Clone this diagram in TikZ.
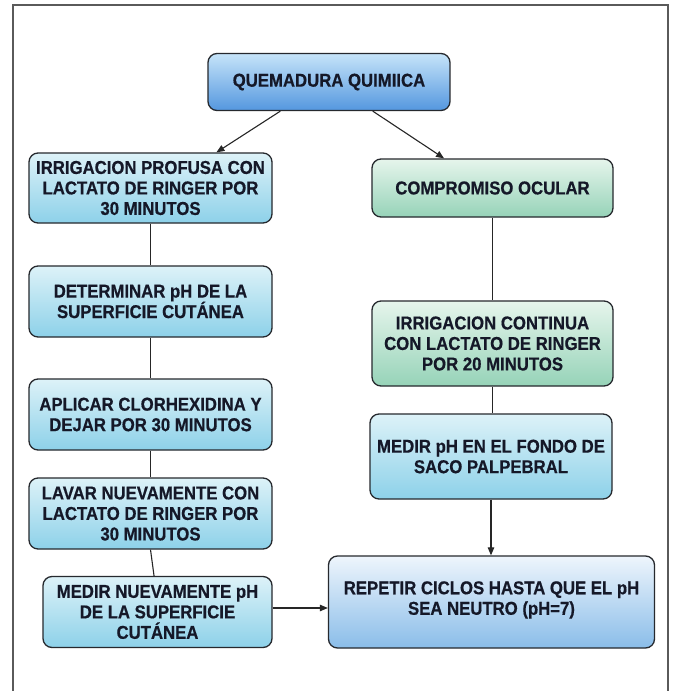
\documentclass[tikz,border=0pt]{standalone}
\usepackage{fontspec}
\setmainfont{Liberation Sans}
\newfontfamily\boxfont[FakeStretch=0.9,FakeBold=0.6]{Liberation Sans}
\usetikzlibrary{arrows.meta,calc}
\definecolor{txt}{HTML}{151828}
\definecolor{edge}{HTML}{26292E}
\definecolor{frame}{HTML}{5A5A5A}
\tikzset{
  box/.style={draw=edge, line width=1.3pt, rounded corners=9pt, align=center,
    text=txt, inner sep=0pt, font=\boxfont\fontsize{18.6}{20.5}\selectfont\bfseries},
  bluebox/.style={box, top color=blueA, bottom color=blueB},
  cyanbox/.style={box, top color=cyanA, bottom color=cyanB},
  greenbox/.style={box, top color=greenA, bottom color=greenB},
  lightbox/.style={box, top color=lightA, bottom color=lightB},
  conn/.style={draw=black!85, line width=1.1pt},
  arr/.style={conn, -{Triangle[length=8pt,width=6.5pt]}}
}
\definecolor{blueA}{HTML}{C6E4F9}
\definecolor{blueB}{HTML}{5497DF}
\definecolor{cyanA}{HTML}{DDF2F8}
\definecolor{cyanB}{HTML}{8DD1E9}
\definecolor{greenA}{HTML}{E6F5EC}
\definecolor{greenB}{HTML}{96D3B8}
\definecolor{lightA}{HTML}{EEF5FC}
\definecolor{lightB}{HTML}{8ABDE9}
\begin{document}
\begin{tikzpicture}[x=1pt,y=-1pt]
\useasboundingbox (0,0) rectangle (673,691);
\fill[white] (0,0) rectangle (673,691);
% outer frame
\coordinate (f1) at (13,691);
\coordinate (f2) at (13,5);
\coordinate (f3) at (668,5);
\coordinate (f4) at (668,691);
\draw[frame, line width=1.2pt] (f1) -- (f2) -- (f3) -- (f4);

% nodes
\node[bluebox, minimum width=242pt, minimum height=57pt] (q) at (329,82) {QUEMADURA QUIMIICA};
\node[cyanbox, minimum width=243pt, minimum height=70pt] (a1) at (150.5,188) {IRRIGACION PROFUSA CON\\LACTATO DE RINGER POR\\30 MINUTOS};
\node[cyanbox, minimum width=243pt, minimum height=71pt] (a2) at (150.5,301.5) {DETERMINAR pH DE LA\\SUPERFICIE CUTÁNEA};
\node[cyanbox, minimum width=243pt, minimum height=71pt] (a3) at (150.5,414.5) {APLICAR CLORHEXIDINA Y\\DEJAR POR 30 MINUTOS};
\node[cyanbox, minimum width=243pt, minimum height=71pt] (a4) at (150.5,513.5) {LAVAR NUEVAMENTE CON\\LACTATO DE RINGER POR\\30 MINUTOS};
\node[cyanbox, minimum width=229pt, minimum height=71pt] (a5) at (157.5,612) {MEDIR NUEVAMENTE pH\\DE LA SUPERFICIE\\CUTÁNEA};
\node[greenbox, minimum width=241pt, minimum height=58pt] (b1) at (492.5,188) {COMPROMISO OCULAR};
\node[greenbox, minimum width=241pt, minimum height=85pt] (b2) at (492.5,343.5) {IRRIGACION CONTINUA\\CON LACTATO DE RINGER\\POR 20 MINUTOS};
\node[cyanbox, minimum width=242pt, minimum height=85pt] (b3) at (491,456.5) {MEDIR pH EN EL FONDO DE\\SACO PALPEBRAL};
\node[lightbox, minimum width=326pt, minimum height=92pt, text depth=8pt] (r) at (491.5,602) {REPETIR CICLOS HASTA QUE EL pH\\SEA NEUTRO (pH=7)};

% connectors
\draw[arr] ($(q.south west)!0.30!(q.south east)$) -- ($(a1.north west)!0.77!(a1.north east)$);
\draw[arr] ($(q.south west)!0.68!(q.south east)$) -- ($(b1.north west)!0.30!(b1.north east)$);
\draw[conn] (a1.south) -- (a2.north);
\draw[conn] (a2.south) -- (a3.north);
\draw[conn] (a3.south) -- (a4.north);
\draw[conn] (a4.south) -- ($(a5.north west)!0.485!(a5.north east)$);
\draw[conn] (b1.south) -- (b2.north);
\draw[conn] (b2.south) -- (b2.south |- b3.north);
\draw[arr] (b3.south) -- (b3.south |- r.north);
\draw[arr] ([yshift=4pt]a5.east) -- ([yshift=4pt]a5.east -| r.west);
\end{tikzpicture}
\end{document}
